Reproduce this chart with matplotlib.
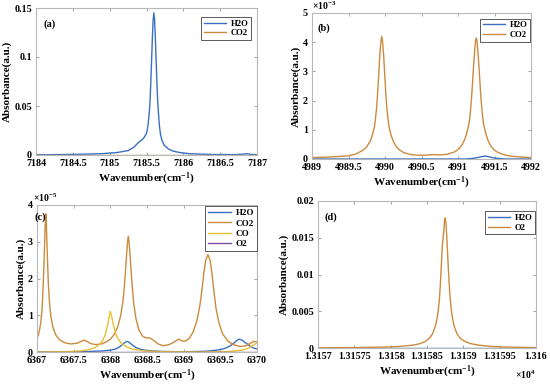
import numpy as np
import matplotlib.pyplot as plt

# ---- panel (a) ----
a_x_h2o = [7184.0, 7184.4, 7184.7, 7184.9, 7185.1, 7185.25, 7185.33, 7185.38, 7185.42, 7185.46,
           7185.5, 7185.52, 7185.54, 7185.55, 7185.56, 7185.57, 7185.58, 7185.59, 7185.6, 7185.61,
           7185.62, 7185.63, 7185.64, 7185.65, 7185.66, 7185.675, 7185.69, 7185.71, 7185.74, 7185.8,
           7185.86, 7185.95, 7186.1, 7186.4, 7186.7, 7186.8, 7186.86, 7186.92, 7187.0]
a_y_h2o = [0.0002, 0.0005, 0.0009, 0.0014, 0.0025, 0.0045, 0.008, 0.012, 0.0145, 0.017,
           0.022, 0.03, 0.045, 0.058, 0.077, 0.098, 0.12, 0.138, 0.145, 0.138,
           0.12, 0.098, 0.077, 0.058, 0.045, 0.03, 0.021, 0.015, 0.01, 0.006,
           0.004, 0.0025, 0.0012, 0.0005, 0.0004, 0.0008, 0.0013, 0.0006, 0.0003]
a_x_co2 = [7184.0, 7187.0]
a_y_co2 = [0.0, 0.0]

# ---- panel (b) ---- (units of 1e-3)
b_x_co2 = [4989.0, 4989.2, 4989.4, 4989.5, 4989.6, 4989.7, 4989.75, 4989.8, 4989.83, 4989.855,
           4989.87, 4989.885, 4989.9, 4989.915, 4989.93, 4989.945, 4989.955, 4989.965, 4989.98, 4989.995,
           4990.01, 4990.025, 4990.04, 4990.055, 4990.085, 4990.115, 4990.155, 4990.205, 4990.255, 4990.355,
           4990.45, 4990.55, 4990.65, 4990.75, 4990.85, 4990.95, 4991.0, 4991.05, 4991.09, 4991.12,
           4991.15, 4991.165, 4991.18, 4991.195, 4991.21, 4991.225, 4991.24, 4991.25, 4991.26, 4991.275,
           4991.29, 4991.305, 4991.32, 4991.335, 4991.35, 4991.38, 4991.41, 4991.45, 4991.5, 4991.55,
           4991.65, 4991.75, 4991.9, 4992.0]
b_y_co2 = [0.05, 0.065, 0.09, 0.11, 0.17, 0.3, 0.42, 0.62, 0.85, 1.1,
           1.4, 1.75, 2.3, 2.95, 3.6, 4.05, 4.2, 4.05, 3.6, 2.95,
           2.3, 1.75, 1.4, 1.1, 0.8, 0.6, 0.42, 0.3, 0.22, 0.15,
           0.13, 0.13, 0.15, 0.14, 0.16, 0.24, 0.32, 0.46, 0.66, 0.88,
           1.2, 1.5, 1.9, 2.45, 3.05, 3.6, 4.05, 4.15, 4.05, 3.6,
           3.05, 2.45, 1.9, 1.5, 1.2, 0.88, 0.64, 0.44, 0.3, 0.22,
           0.13, 0.09, 0.06, 0.05]
b_x_h2o = [4989.0, 4991.1, 4991.2, 4991.27, 4991.32, 4991.37, 4991.42, 4991.48, 4991.55, 4991.65, 4992.0]
b_y_h2o = [0.0, 0.0, 0.02, 0.05, 0.08, 0.1, 0.08, 0.04, 0.02, 0.0, 0.0]

# ---- panel (c) ---- (units of 1e-5)
c_x_co2 = [6367.0, 6367.03, 6367.05, 6367.065, 6367.075, 6367.085, 6367.095, 6367.105, 6367.112, 6367.12,
           6367.128, 6367.135, 6367.145, 6367.155, 6367.17, 6367.19, 6367.22, 6367.26, 6367.31, 6367.38,
           6367.46, 6367.55, 6367.6, 6367.64, 6367.68, 6367.73, 6367.8, 6367.88, 6367.95, 6368.0,
           6368.05, 6368.1, 6368.14, 6368.17, 6368.19, 6368.205, 6368.22, 6368.235, 6368.245, 6368.255,
           6368.27, 6368.285, 6368.3, 6368.32, 6368.35, 6368.39, 6368.44, 6368.49, 6368.53, 6368.58,
           6368.65, 6368.72, 6368.8, 6368.87, 6368.93, 6368.98, 6369.03, 6369.08, 6369.13, 6369.18,
           6369.22, 6369.25, 6369.275, 6369.3, 6369.33, 6369.36, 6369.385, 6369.41, 6369.44, 6369.48,
           6369.53, 6369.6, 6369.68, 6369.77, 6369.85, 6369.92, 6369.96, 6370.0]
c_y_co2 = [0.36, 0.55, 0.78, 1.05, 1.4, 1.85, 2.4, 3.0, 3.45, 3.76,
           3.45, 3.0, 2.4, 1.85, 1.35, 0.95, 0.65, 0.45, 0.33, 0.25,
           0.22, 0.24, 0.29, 0.32, 0.29, 0.23, 0.2, 0.22, 0.28, 0.35,
           0.47, 0.68, 0.98, 1.35, 1.75, 2.15, 2.6, 3.0, 3.15, 3.0,
           2.6, 2.15, 1.75, 1.3, 0.9, 0.6, 0.43, 0.38, 0.39, 0.33,
           0.22, 0.17, 0.2, 0.27, 0.35, 0.3, 0.3, 0.38, 0.55, 0.85,
           1.25, 1.7, 2.15, 2.5, 2.65, 2.5, 2.15, 1.7, 1.2, 0.8,
           0.5, 0.3, 0.2, 0.15, 0.17, 0.25, 0.29, 0.27]
c_x_co = [6367.0, 6367.4, 6367.6, 6367.72, 6367.8, 6367.86, 6367.9, 6367.93, 6367.96, 6367.98,
          6368.0, 6368.02, 6368.04, 6368.07, 6368.1, 6368.15, 6368.22, 6368.3, 6368.45, 6368.7,
          6369.2, 6369.6, 6369.8, 6369.9, 6370.0]
c_y_co = [0.0, 0.01, 0.03, 0.07, 0.13, 0.22, 0.33, 0.47, 0.7, 0.92,
          1.1, 0.95, 0.75, 0.52, 0.37, 0.24, 0.14, 0.08, 0.03, 0.01,
          0.0, 0.01, 0.05, 0.12, 0.25]
c_x_h2o = [6367.0, 6367.6, 6367.9, 6368.0, 6368.07, 6368.12, 6368.17, 6368.2, 6368.23, 6368.26,
           6368.3, 6368.35, 6368.42, 6368.5, 6368.7, 6369.0, 6369.3, 6369.45, 6369.55, 6369.63,
           6369.69, 6369.73, 6369.76, 6369.8, 6369.85, 6369.9, 6369.95, 6370.0]
c_y_h2o = [0.0, 0.005, 0.03, 0.05, 0.08, 0.13, 0.21, 0.26, 0.29, 0.26,
           0.19, 0.12, 0.07, 0.04, 0.015, 0.005, 0.02, 0.05, 0.09, 0.16,
           0.25, 0.32, 0.35, 0.32, 0.24, 0.17, 0.11, 0.08]
c_x_o2 = [6367.0, 6370.0]
c_y_o2 = [0.0, 0.0]

# ---- panel (d) ----
d_x_o2 = [13157.0, 13157.5, 13157.9, 13158.1, 13158.3, 13158.4, 13158.48, 13158.54, 13158.58, 13158.62,
          13158.65, 13158.67, 13158.685, 13158.7, 13158.71, 13158.72, 13158.73, 13158.74, 13158.75, 13158.76,
          13158.77, 13158.78, 13158.79, 13158.805, 13158.82, 13158.84, 13158.87, 13158.91, 13158.96, 13159.02,
          13159.1, 13159.2, 13159.4, 13159.6, 13160.0]
d_y_o2 = [0.00003, 0.00006, 0.00012, 0.0002, 0.00038, 0.00058, 0.0009, 0.0014, 0.002, 0.0031,
          0.0047, 0.0065, 0.0088, 0.0118, 0.0138, 0.0148, 0.0158, 0.0171, 0.0177, 0.017,
          0.0155, 0.0135, 0.0115, 0.0088, 0.0066, 0.0047, 0.0031, 0.002, 0.0013, 0.0009,
          0.0006, 0.0004, 0.0002, 0.00012, 0.00005]
d_x_h2o = [13157.0, 13160.0]
d_y_h2o = [0.0, 0.0]

BLUE = "#3A6FC4"
ORANGE = "#CC8A3C"
YELLOW = "#E8C030"
PURPLE = "#7E4F9E"

plt.rcParams["font.family"] = "Liberation Serif"
plt.rcParams["font.weight"] = "bold"
plt.rcParams["mathtext.fontset"] = "custom"
plt.rcParams["mathtext.rm"] = "Liberation Serif:bold"
plt.rcParams["mathtext.it"] = "Liberation Serif:bold"
plt.rcParams["mathtext.default"] = "rm"

fig = plt.figure(figsize=(5.5, 3.88), dpi=100)
axa = fig.add_axes([36 / 550, 1 - 155 / 388, 221 / 550, 147 / 388])
axb = fig.add_axes([312 / 550, 1 - 159 / 388, 219 / 550, 146 / 388])
axc = fig.add_axes([37 / 550, 1 - 352 / 388, 220 / 550, 147 / 388])
axd = fig.add_axes([318 / 550, 1 - 348 / 388, 218 / 550, 147 / 388])


def style(ax, label, lab_xy, leg_anchor, leg_size=6.2):
    for s in ax.spines.values():
        s.set_color("#b8b8b8")
        s.set_linewidth(0.8)
    ax.tick_params(direction="in", top=True, right=True, length=2.5, width=0.6,
                   color="#909090", labelsize=7.2, pad=3)
    for t in ax.get_xticklabels() + ax.get_yticklabels():
        t.set_fontweight("bold")
    ax.set_xlabel("Wavenumber(cm$^{-1}$)", fontsize=8, fontweight="bold", labelpad=2)
    ax.set_ylabel("Absorbance(a.u.)", fontsize=8, fontweight="bold", labelpad=1.5)
    ax.text(lab_xy[0], lab_xy[1], label, transform=ax.transAxes, fontsize=7.5,
            fontweight="bold", va="center")
    leg = ax.legend(loc="upper right", bbox_to_anchor=leg_anchor, fontsize=leg_size,
                    handlelength=2.6, borderpad=0.3, labelspacing=0.2, handletextpad=0.5,
                    fancybox=False, framealpha=1, borderaxespad=0)
    leg.get_frame().set_edgecolor("#404040")
    leg.get_frame().set_linewidth(0.6)
    for t in leg.get_texts():
        t.set_fontweight("bold")


# (a)
axa.plot(a_x_h2o, a_y_h2o, color=BLUE, lw=1, label="H2O")
axa.plot(a_x_co2, a_y_co2, color=ORANGE, lw=1, label="CO2")
axa.set_xlim(7184, 7187)
axa.set_ylim(0, 0.15)
axa.set_xticks(np.arange(7184, 7187.01, 0.5))
axa.set_xticklabels(["7184", "7184.5", "7185", "7185.5", "7186", "7186.5", "7187"])
axa.set_yticks([0, 0.05, 0.1, 0.15])
axa.set_yticklabels(["0", "0.05", "0.1", "0.15"])
style(axa, "(a)", (0.036, 0.89), (0.973, 0.939))

# (b)
axb.plot(b_x_h2o, np.array(b_y_h2o) * 1e-3, color=BLUE, lw=1, label="H2O")
axb.plot(b_x_co2, np.array(b_y_co2) * 1e-3, color=ORANGE, lw=1, label="CO2")
axb.set_xlim(4989, 4992)
axb.set_ylim(0, 5e-3)
axb.set_xticks(np.arange(4989, 4992.01, 0.5))
axb.set_xticklabels(["4989", "4989.5", "4990", "4990.5", "4991", "4991.5", "4992"])
axb.set_yticks(np.arange(0, 5.01e-3, 1e-3))
axb.set_yticklabels(["0", "1", "2", "3", "4", "5"])
axb.text(0.0, 1.01, r"$\times$10$^{-3}$", transform=axb.transAxes, fontsize=7, va="bottom")
style(axb, "(b)", (0.026, 0.897), (0.995, 0.96))

# (c)
axc.plot(c_x_h2o, np.array(c_y_h2o) * 1e-5, color=BLUE, lw=1, label="H2O")
axc.plot(c_x_co2, np.array(c_y_co2) * 1e-5, color=ORANGE, lw=1, label="CO2")
axc.plot(c_x_co, np.array(c_y_co) * 1e-5, color=YELLOW, lw=1, label="CO")
axc.plot(c_x_o2, np.array(c_y_o2) * 1e-5, color=PURPLE, lw=1, label="O2")
axc.set_xlim(6367, 6370)
axc.set_ylim(0, 4e-5)
axc.set_xticks(np.arange(6367, 6370.01, 0.5))
axc.set_xticklabels(["6367", "6367.5", "6368", "6368.5", "6369", "6369.5", "6370"])
axc.set_yticks(np.arange(0, 4.01e-5, 1e-5))
axc.set_yticklabels(["0", "1", "2", "3", "4"])
axc.text(-0.02, 1.01, r"$\times$10$^{-5}$", transform=axc.transAxes, fontsize=7, va="bottom")
style(axc, "(c)", (-0.01, 0.92), (1.0, 0.99), leg_size=6.5)

# (d)
axd.plot(d_x_h2o, d_y_h2o, color=BLUE, lw=1, label="H2O")
axd.plot(d_x_o2, d_y_o2, color=ORANGE, lw=1, label="O2")
axd.set_xlim(13157, 13160)
axd.set_ylim(0, 0.02)
axd.set_xticks(np.arange(13157, 13160.01, 0.5))
axd.set_xticklabels(["1.3157", "1.31575", "1.3158", "1.31585", "1.3159", "1.31595", "1.316"])
axd.set_yticks([0, 0.005, 0.01, 0.015, 0.02])
axd.set_yticklabels(["0", "0.005", "0.01", "0.015", "0.02"])
axd.text(1.0, -0.18, r"$\times$10$^{4}$", transform=axd.transAxes, fontsize=7,
         ha="right", va="center")
style(axd, "(d)", (0.028, 0.89), (0.995, 0.93))

fig.savefig("out.png", dpi=100)
